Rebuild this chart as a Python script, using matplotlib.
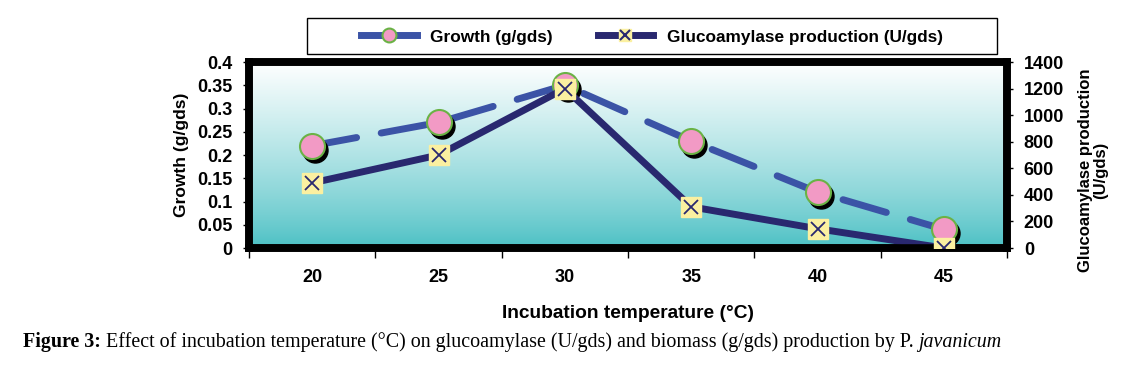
import matplotlib.pyplot as plt
import matplotlib.transforms as mtransforms
from matplotlib.lines import Line2D
from matplotlib.patches import Rectangle
import numpy as np

temps = [20, 25, 30, 35, 40, 45]
growth = [0.22, 0.27, 0.35, 0.23, 0.12, 0.04]
glucoamylase = [490, 700, 1200, 310, 145, 0]

plt.rcParams['font.family'] = ['Liberation Sans', 'DejaVu Sans']
plt.rcParams['font.weight'] = 'bold'

fig = plt.figure(figsize=(11.35, 3.68), dpi=100)
ax = fig.add_axes([0.2194, 0.326, 0.668, 0.5055])
ax2 = ax.twinx()

x = np.arange(len(temps))

# background gradient white -> teal
grad = np.linspace(1, 0, 256).reshape(-1, 1)
top = np.array([1.0, 1.0, 1.0])
bot = np.array([0x48, 0xBF, 0xC3]) / 255
img = bot + (top - bot) * grad[..., None] ** 0.8
ax.imshow(img, extent=[0, 1, 0, 1], transform=ax.transAxes, aspect='auto', zorder=0)

ax.set_xlim(-0.5, len(temps) - 0.5)
ax.set_ylim(0, 0.4)
ax2.set_ylim(0, 1400)

# growth (left axis) with shadow
shadow = mtransforms.offset_copy(ax.transData, fig=fig, x=3, y=-4, units='dots')
ax.plot(x, growth, ls='none', marker='o', ms=18, mfc='black', mec='black', transform=shadow, zorder=3)
ax.plot(x, growth, color='#3B53A6', lw=5, dashes=(6.5, 3.6), dash_capstyle='round', zorder=2)
ax.plot(x, growth, ls='none', marker='o', ms=18, mfc='#F29AC5', mec='#6AB245', mew=1.5, zorder=4)

# glucoamylase (right axis)
ax2.plot(x, glucoamylase, color='#29286F', lw=5, zorder=2)
ax2.plot(x, glucoamylase, ls='none', marker='s', ms=14, mfc='#FBF0A0', mec='#FBF0A0', zorder=3)
ax2.plot(x, glucoamylase, ls='none', marker='x', ms=10, mec='#29286F', mew=1.3, zorder=4)

for a in (ax, ax2):
    for s in a.spines.values():
        s.set_linewidth(5.5)
        s.set_color('black')

fs = 13
ax.set_yticks(np.arange(0, 0.401, 0.05))
ax.set_yticklabels(['0', '0.05', '0.1', '0.15', '0.2', '0.25', '0.3', '0.35', '0.4'])
ax2.set_yticks(np.arange(0, 1401, 200))
ax.tick_params(axis='y', labelsize=fs, length=4, width=1, pad=8)
ax2.tick_params(axis='y', labelsize=fs, length=4, width=1, pad=8)

ax.set_xticks(x)
ax.set_xticklabels([str(t) for t in temps])
ax.set_xticks(np.arange(-0.5, len(temps)), minor=True)
ax.tick_params(axis='x', which='major', length=0, labelsize=fs, pad=15)
ax.tick_params(axis='x', which='minor', length=7, width=1)

ax.set_ylabel('Growth (g/gds)', fontsize=12.5, fontweight='bold', labelpad=6)
fig.text(1093 / 1135, 1 - 170 / 368, 'Glucoamylase production\n(U/gds)', rotation=90,
         ha='center', va='center', multialignment='center', fontsize=12, fontweight='bold',
         linespacing=1.0)
ax.set_xlabel('Incubation temperature (\u00b0C)', fontsize=13.8, fontweight='bold', labelpad=14)

# legend with a box drawn separately
h1 = Line2D([], [], color='#3B53A6', lw=5, marker='o', ms=10, mfc='#F29AC5', mec='#6AB245', mew=1.5)
h2 = (Line2D([], [], color='#29286F', lw=5),
      Line2D([], [], ls='none', marker='s', ms=9, mfc='#FBF0A0', mec='#FBF0A0'),
      Line2D([], [], ls='none', marker='x', ms=7, mec='#29286F', mew=1.5))
leg = fig.legend([h1, h2], ['Growth (g/gds)', 'Glucoamylase production (U/gds)'],
                 loc='center', bbox_to_anchor=(652 / 1135, 1 - 37 / 368), ncol=2, frameon=False,
                 fontsize=12.4, handlelength=3.2, handletextpad=0.8, columnspacing=2.6,
                 borderaxespad=0)
fig.add_artist(Rectangle((307 / 1135, 1 - 54 / 368), 690 / 1135, 36 / 368,
                         transform=fig.transFigure, fill=False, ec='black', lw=1))

# caption, pieces placed one after another
fig.canvas.draw()
r = fig.canvas.get_renderer()
cap_y = 1 - 347 / 368
parts = [('Figure 3:', dict(fontweight='bold')),
         (' Effect of incubation temperature (\u00b0C) on glucoamylase (U/gds) and biomass (g/gds) production by P. ',
          dict(fontweight='normal')),
         ('javanicum', dict(fontweight='normal', style='italic'))]
xpos = 23
for s, kw in parts:
    t = fig.text(xpos / 1135, cap_y, s, fontsize=14.4, family='Liberation Serif', **kw)
    bb = t.get_window_extent(renderer=r)
    xpos = bb.x1

fig.savefig('out.png', dpi=100)
